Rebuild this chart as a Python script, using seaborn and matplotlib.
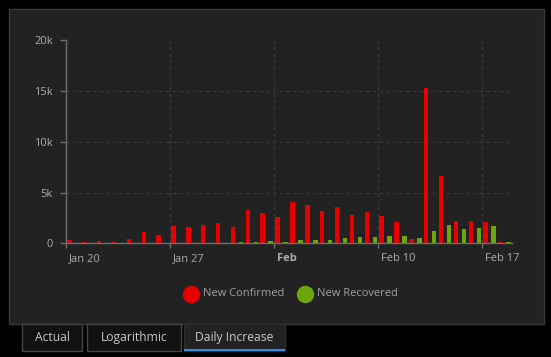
import matplotlib
matplotlib.use("Agg")
import matplotlib.pyplot as plt
from matplotlib.patches import Rectangle
from matplotlib.lines import Line2D
from matplotlib.transforms import ScaledTranslation
import seaborn as sns
import pandas as pd

days = ["Jan 20", "Jan 21", "Jan 22", "Jan 23", "Jan 24", "Jan 25", "Jan 26",
        "Jan 27", "Jan 28", "Jan 29", "Jan 30", "Jan 31", "Feb 1", "Feb 2",
        "Feb 3", "Feb 4", "Feb 5", "Feb 6", "Feb 7", "Feb 8", "Feb 9",
        "Feb 10", "Feb 11", "Feb 12", "Feb 13", "Feb 14", "Feb 15", "Feb 16",
        "Feb 17", "Feb 18"]
new_confirmed = [330, 140, 260, 150, 380, 1150, 860, 1740, 1650, 1850, 2050, 1650,
                 3240, 2940, 2550, 4100, 3800, 3200, 3600, 2800, 3100, 2700, 2100,
                 430, 15300, 6600, 2200, 2200, 2100, 130]
new_recovered = [0, 40, 40, 40, 40, 40, 40, 50, 50, 50, 60, 170,
                 170, 260, 150, 330, 330, 330, 530, 630, 630, 730, 730,
                 530, 1220, 1820, 1420, 1520, 1720, 130]
series_names = ["New Confirmed", "New Recovered"]
series_colors = ["#e80000", "#6ea50a"]
xtick_days = ["Jan 20", "Jan 27", "Feb 3", "Feb 10", "Feb 17"]
xtick_labels = ["Jan 20", "Jan 27", "Feb", "Feb 10", "Feb 17"]
ytick_values = [0, 5000, 10000, 15000, 20000]
ytick_labels = ["0", "5k", "10k", "15k", "20k"]
tab_labels = ["Actual", "Logarithmic", "Daily Increase"]

df = pd.DataFrame({
    "day": days * 2,
    "series": [series_names[0]] * len(days) + [series_names[1]] * len(days),
    "value": new_confirmed + new_recovered,
})

W, H = 551, 357
plt.rcParams["font.family"] = ["Open Sans", "DejaVu Sans"]
fig = plt.figure(figsize=(W / 100, H / 100), dpi=100, facecolor="black")

def fx(px):
    return px / W

def fy(py):
    return 1 - py / H

# panel
fig.add_artist(Rectangle((fx(9), fy(324)), fx(535), 315 / H, transform=fig.transFigure,
                         facecolor="#222222", edgecolor="#3a3a3a", lw=1, zorder=-5))

ax = fig.add_axes([fx(66), fy(243.3), fx(512) - fx(66), (243.3 - 40.5) / H])
ax.set_facecolor("#222222")
sns.barplot(data=df, x="day", y="value", hue="series", order=days,
            hue_order=series_names, palette=series_colors, width=1.08, gap=0.44,
            dodge=True, errorbar=None, saturation=1, legend=False, ax=ax,
            linewidth=0)
ax.set_xlim(-0.5, len(days) - 0.5)
ax.set_ylim(0, 20000)
ax.set_xlabel("")
ax.set_ylabel("")

xt = [days.index(d) - 0.5 for d in xtick_days]
ax.set_xticks(xt)
ax.set_xticklabels(xtick_labels)
ax.set_yticks(ytick_values)
ax.set_yticklabels(ytick_labels)

ax.set_axisbelow(True)
ax.grid(True, axis="both", color="#3b3b3b", lw=0.8, ls=(0, (3, 3)))
for s in ["top", "right"]:
    ax.spines[s].set_visible(False)
for s in ["left", "bottom"]:
    ax.spines[s].set_color("#6e6e6e")
    ax.spines[s].set_linewidth(1)
ax.tick_params(axis="x", colors="#6e6e6e", length=3.6, width=1, pad=3.5,
               labelcolor="#a8acb0", labelsize=8)
ax.tick_params(axis="y", colors="#6e6e6e", length=4.3, width=1, pad=5,
               labelcolor="#a8acb0", labelsize=8)
off = ScaledTranslation(3 / 100, 0, fig.dpi_scale_trans)
for lab in ax.get_xticklabels():
    lab.set_horizontalalignment("left")
    lab.set_transform(lab.get_transform() + off)
    if lab.get_text() == "Feb":
        lab.set_fontweight("bold")

# legend
leg_y = fy(294)
for cx, tx, name, col in [(191, 203, series_names[0], series_colors[0]),
                          (305, 317, series_names[1], series_colors[1])]:
    fig.add_artist(Line2D([fx(cx)], [leg_y], marker="o", markersize=11.5, color=col,
                          ls="", transform=fig.transFigure))
    fig.text(fx(tx), leg_y, name, color="#a0a0a0", fontsize=8, va="center", ha="left")

# tabs
tabs = [(22, 82, False), (87, 181, False), (184, 285, True)]
for (x0, x1, active), lab in zip(tabs, tab_labels):
    fig.add_artist(Rectangle((fx(x0), fy(351)), fx(x1 - x0), 27 / H,
                             transform=fig.transFigure,
                             facecolor="#222222" if active else "#111111",
                             edgecolor="#2e2e2e" if active else "#454545", lw=1))
    if active:
        fig.add_artist(Rectangle((fx(x0), fy(351)), fx(x1 - x0), 2 / H,
                                 transform=fig.transFigure, facecolor="#2f8fe6",
                                 edgecolor="none"))
    fig.text(fx((x0 + x1) / 2), fy(337.5), lab, color="#c4c8cc", fontsize=8.7,
             ha="center", va="center")

fig.savefig("out.png", dpi=100, facecolor="black")
